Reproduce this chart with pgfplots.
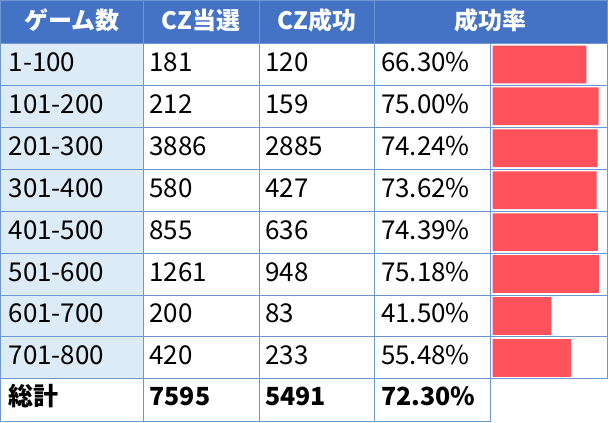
\documentclass[border=0pt]{standalone}
\usepackage{pgfplots}
\usepackage{pgfplotstable}
\pgfplotsset{compat=1.18}
\usepackage{fontspec}
\setmainfont{Noto Sans CJK JP}

\definecolor{hdr}{HTML}{4472C4}
\definecolor{firstcol}{HTML}{DDEBF7}
\definecolor{gridc}{HTML}{6D97CE}
\definecolor{barc}{HTML}{FF525B}

% one row per game range
\pgfplotstableread[col sep=comma]{
row,range,win,succ,rate,ratetext
1,1-100,181,120,66.30,66.30\%
2,101-200,212,159,75.00,75.00\%
3,201-300,3886,2885,74.24,74.24\%
4,301-400,580,427,73.62,73.62\%
5,401-500,855,636,74.39,74.39\%
6,501-600,1261,948,75.18,75.18\%
7,601-700,200,83,41.50,41.50\%
8,701-800,420,233,55.48,55.48\%
}\rows

\pgfplotstableread[col sep=comma]{
row,a,b,c,d
9,総計,7595,5491,72.30\%
}\total

\pgfplotsset{
  celltext/.style={draw=none, mark=none, nodes near coords,
    point meta=explicit symbolic,
    every node near coord/.append style={anchor=base west, inner sep=0pt,
      text=black, font=\fontsize{26}{30}\selectfont}},
  celltotal/.style={celltext,
    every node near coord/.append style={font=\fontsize{25}{30}\selectfont\bfseries}},
}

\begin{document}
\begin{tikzpicture}
\begin{axis}[
    at={(0,0)}, anchor=south west,
    width=608pt, height=422pt, scale only axis,
    xmin=0, xmax=608, ymin=0, ymax=422,
    y dir=reverse,
    hide axis, clip=false,
]
\path (axis cs:0,0) rectangle (axis cs:608,422);
\fill[hdr] (axis cs:0,0) rectangle (axis cs:608,43);
\fill[firstcol] (axis cs:0,43) rectangle (axis cs:143,379);

% grid
\pgfplotsinvokeforeach{43,85,127,169,211,253,295,337,379}{
  \draw[gridc, line width=1pt] (axis cs:0,#1) -- (axis cs:608,#1);
}
\draw[gridc, line width=1pt] (axis cs:0,421.5) -- (axis cs:491,421.5);
\draw[gridc, line width=1pt] (axis cs:0,0.5) -- (axis cs:608,0.5);
\draw[gridc, line width=1pt] (axis cs:0.5,0) -- (axis cs:0.5,422);
\pgfplotsinvokeforeach{143,259,375}{
  \draw[gridc, line width=1pt] (axis cs:#1,0) -- (axis cs:#1,422);
}
\draw[gridc, line width=1pt] (axis cs:491,43) -- (axis cs:491,422);
\draw[gridc, line width=1pt] (axis cs:607.5,0) -- (axis cs:607.5,379);

% header
\node[anchor=base, text=white, font=\fontsize{24}{28}\selectfont\bfseries, inner sep=0pt]
  at (axis cs:71.5,29) {ゲーム数};
\node[anchor=base, text=white, font=\fontsize{24}{28}\selectfont\bfseries, inner sep=0pt]
  at (axis cs:201,29) {CZ当選};
\node[anchor=base, text=white, font=\fontsize{24}{28}\selectfont\bfseries, inner sep=0pt]
  at (axis cs:317,29) {CZ成功};
\node[anchor=base, text=white, font=\fontsize{24}{28}\selectfont\bfseries, inner sep=0pt]
  at (axis cs:491,29) {成功率};

% body text
\addplot[celltext] table[x expr=8,   y expr=43+42*\thisrow{row}-14, meta=range]{\rows};
\addplot[celltext] table[x expr=149, y expr=43+42*\thisrow{row}-14, meta=win]{\rows};
\addplot[celltext] table[x expr=265, y expr=43+42*\thisrow{row}-14, meta=succ]{\rows};
\addplot[celltext] table[x expr=381, y expr=43+42*\thisrow{row}-14, meta=ratetext]{\rows};

% total row
\addplot[celltotal] table[x expr=8,   y expr=421-15, meta=a]{\total};
\addplot[celltotal] table[x expr=149, y expr=421-15, meta=b]{\total};
\addplot[celltotal] table[x expr=265, y expr=421-15, meta=c]{\total};
\addplot[celltotal] table[x expr=381, y expr=421-15, meta=d]{\total};
\end{axis}

% data bars
\begin{axis}[
    at={(493pt,43pt)}, anchor=south west,
    width=113.2pt, height=336pt, scale only axis,
    xmin=0, xmax=80, ymin=0.5, ymax=8.5,
    y dir=reverse, hide axis,
    xbar, bar width=0.9,
]
\addplot[fill=barc, draw=none] table[x=rate, y=row]{\rows};
\end{axis}
\end{tikzpicture}
\end{document}
